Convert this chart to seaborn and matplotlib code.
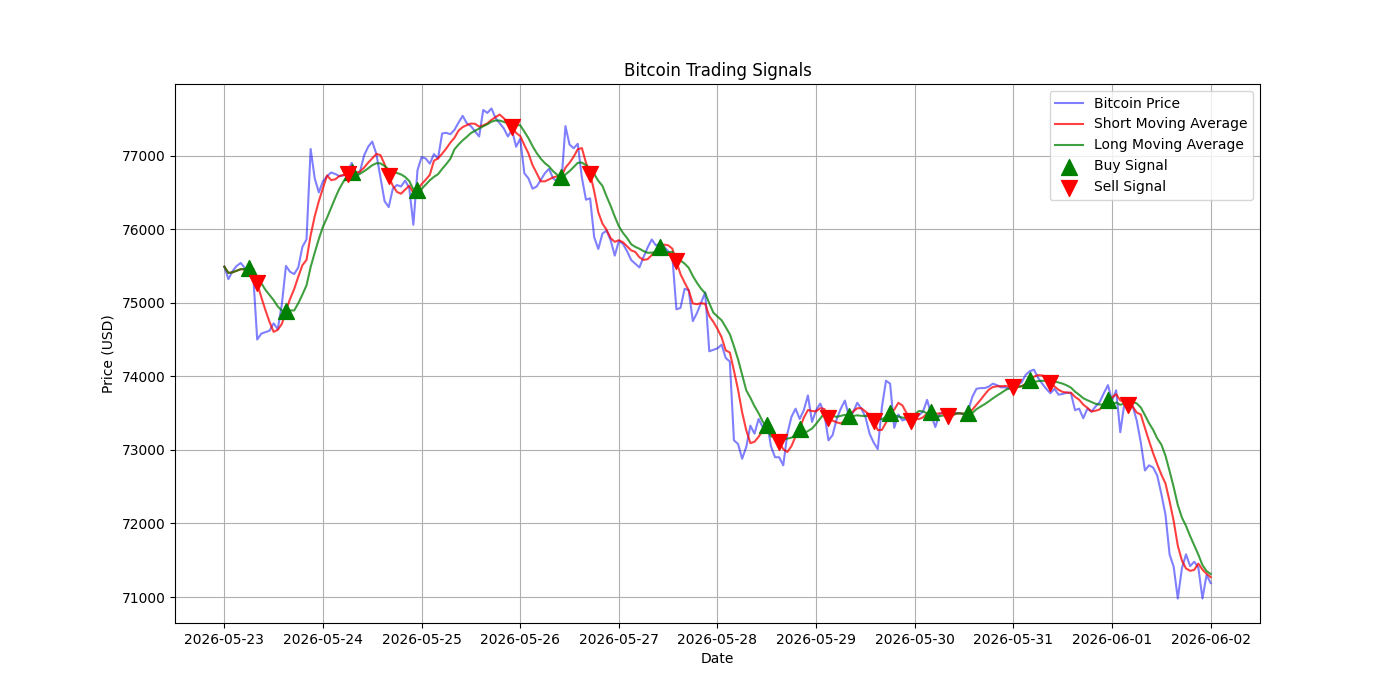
import pandas as pd
import matplotlib
matplotlib.use('Agg')
import matplotlib.pyplot as plt
import matplotlib.dates as mdates
import seaborn as sns

# hourly bitcoin price, starting 2026-05-23 00:00
start = '2026-05-23 00:00'
price = [
    75490, 75320, 75430, 75500, 75540, 75470, 75420, 75400, 74500, 74580,
    74600, 74620, 74720, 74640, 74980, 75500, 75420, 75390, 75480, 75760,
    75860, 77090, 76690, 76500, 76650, 76720, 76770, 76750, 76720, 76730,
    76780, 76900, 76720, 76780, 77000, 77120, 77190, 77020, 76700, 76380,
    76300, 76550, 76600, 76580, 76660, 76560, 76060, 76800, 76980, 76960,
    76890, 77020, 76960, 77300, 77310, 77290, 77350, 77450, 77540, 77440,
    77400, 77330, 77260, 77620, 77580, 77640, 77510, 77440, 77370, 77260,
    77350, 77120, 77230, 76760, 76690, 76550, 76580, 76670, 76760, 76820,
    76690, 76650, 76620, 77400, 77150, 77100, 77160, 76700, 76400, 76420,
    75890, 75730, 75940, 75980, 75850, 75640, 75840, 75800, 75700, 75580,
    75530, 75480, 75620, 75750, 75860, 75780, 75800, 75760, 75700, 75640,
    74910, 74930, 75190, 75170, 74750, 74860, 75000, 75140, 74340, 74360,
    74380, 74430, 74250, 74200, 73130, 73080, 72880, 73040, 73330, 73220,
    73420, 73310, 73400, 73050, 72900, 72900, 72790, 73220, 73450, 73560,
    73420, 73540, 73740, 73380, 73540, 73630, 73490, 73130, 73200, 73420,
    73560, 73670, 73450, 73510, 73640, 73560, 73450, 73220, 73100, 73010,
    73580, 73940, 73900, 73300, 73480, 73400, 73420, 73360, 73440, 73470,
    73520, 73680, 73480, 73310, 73490, 73510, 73480, 73490, 73500, 73500,
    73480, 73530, 73720, 73830, 73840, 73840, 73860, 73900, 73880, 73850,
    73850, 73830, 73850, 73880, 73920, 74020, 74070, 74090, 73980, 73900,
    73830, 73770, 73830, 73750, 73760, 73780, 73770, 73540, 73560, 73430,
    73560, 73520, 73590, 73650, 73770, 73880, 73670, 73810, 73240, 73630,
    73670, 73600, 73400, 73100, 72720, 72790, 72760, 72650, 72400, 72120,
    71580, 71410, 70980, 71390, 71580, 71420, 71480, 71400, 70980, 71300,
    71190,
]

short_window = 5
long_window = 10

buy_times = ['2026-05-23 06:00', '2026-05-23 15:00', '2026-05-24 07:00', '2026-05-24 23:00',
             '2026-05-26 10:00', '2026-05-27 10:00', '2026-05-28 12:00', '2026-05-28 20:00',
             '2026-05-29 08:00', '2026-05-29 18:00', '2026-05-30 04:00', '2026-05-30 13:00',
             '2026-05-31 04:00', '2026-05-31 23:00']
sell_times = ['2026-05-23 08:00', '2026-05-24 06:00', '2026-05-24 16:00', '2026-05-25 22:00',
              '2026-05-26 17:00', '2026-05-27 14:00', '2026-05-28 15:00', '2026-05-29 03:00',
              '2026-05-29 14:00', '2026-05-29 23:00', '2026-05-30 08:00', '2026-05-31 00:00',
              '2026-05-31 09:00', '2026-06-01 04:00']

# 建立資料表
data = pd.DataFrame({'Price': price},
                    index=pd.date_range(start=start, periods=len(price), freq='h'))
data['Short_MA'] = data['Price'].rolling(window=short_window, min_periods=1).mean()
data['Long_MA'] = data['Price'].rolling(window=long_window, min_periods=1).mean()

buys = data.loc[pd.to_datetime(buy_times)]
sells = data.loc[pd.to_datetime(sell_times)]

# 繪圖
fig, ax = plt.subplots(figsize=(14, 7))
sns.lineplot(x=data.index, y=data['Price'], color='blue', alpha=0.5, label='Bitcoin Price', ax=ax)
sns.lineplot(x=data.index, y=data['Short_MA'], color='red', alpha=0.75, label='Short Moving Average', ax=ax)
sns.lineplot(x=data.index, y=data['Long_MA'], color='green', alpha=0.75, label='Long Moving Average', ax=ax)
sns.scatterplot(x=buys.index, y=buys['Short_MA'], marker='^', s=130, color='g',
                edgecolor='g', linewidth=1, label='Buy Signal', ax=ax, zorder=3)
sns.scatterplot(x=sells.index, y=sells['Short_MA'], marker='v', s=130, color='r',
                edgecolor='r', linewidth=1, label='Sell Signal', ax=ax, zorder=3)

ax.xaxis.set_major_locator(mdates.DayLocator())
ax.xaxis.set_major_formatter(mdates.DateFormatter('%Y-%m-%d'))
ax.set_title('Bitcoin Trading Signals')
ax.set_xlabel('Date')
ax.set_ylabel('Price (USD)')
ax.grid(True)
ax.legend(loc='upper right')
plt.savefig('out.png', dpi=100)
